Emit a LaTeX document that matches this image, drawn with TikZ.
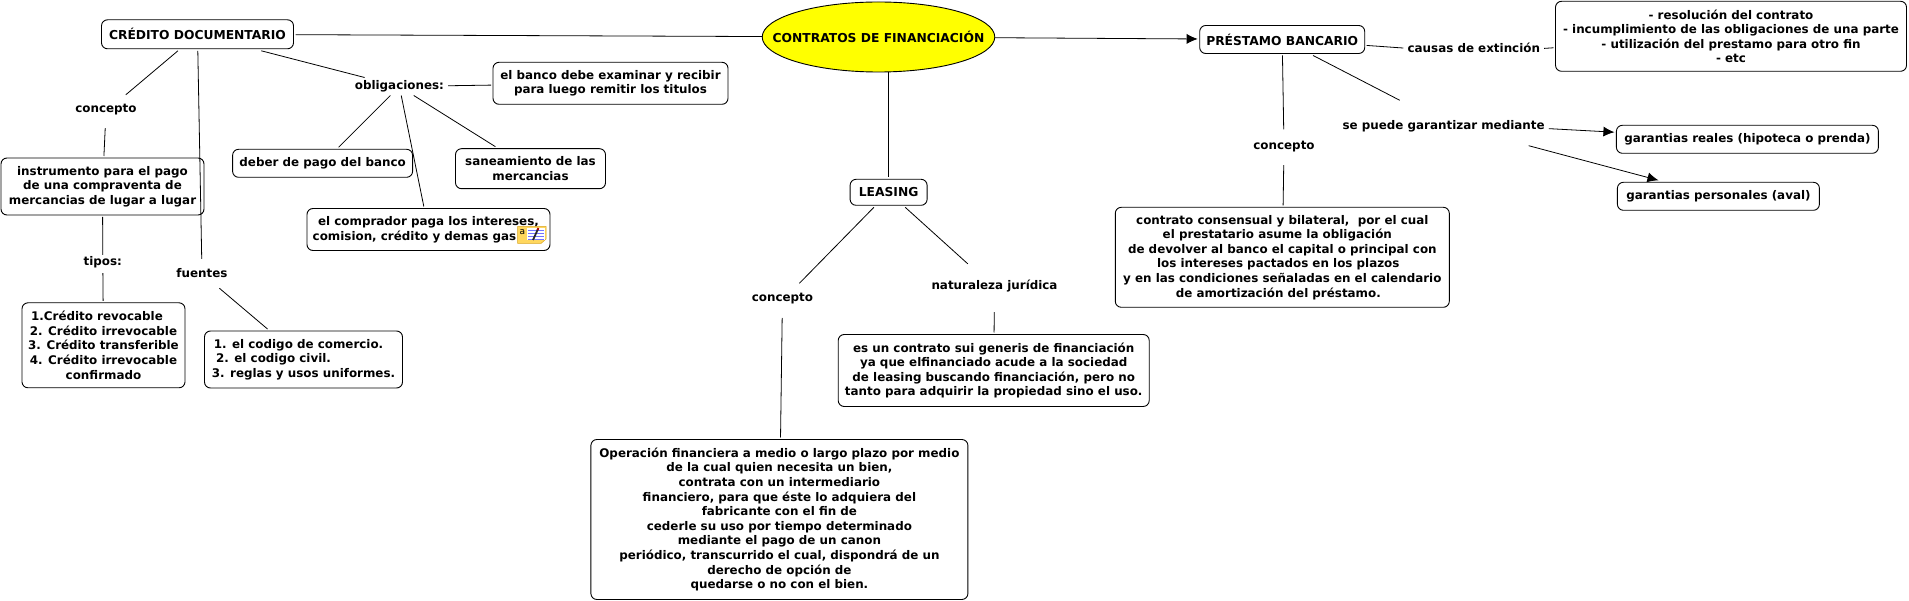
\documentclass[tikz,border=0pt]{standalone}
\usepackage{fontspec}
\setmainfont{DejaVu Sans}
\usetikzlibrary{arrows.meta,shapes.geometric}
\definecolor{elipsecolor}{HTML}{FFFF00}
\definecolor{notacolor}{HTML}{FFD75E}
\definecolor{notaborde}{HTML}{D9A520}
\newcommand{\colgar}[1]{\hspace*{#1}\mbox{}}
\tikzset{
	boxnode/.style={draw,rounded corners=6pt,fill=white,align=center,inner sep=0pt,outer sep=2pt,line width=.9pt},
	lblnode/.style 2 args={anchor=base,inner xsep=4pt,inner ysep=0pt,text height=#1,text depth=#2},
	headfont/.style={font=\fontsize{12.3}{14.6}\selectfont\bfseries},
	link/.style={line width=.8pt},
	arrowlink/.style={link,-{Latex[length=11pt,width=10pt]}}
}
\begin{document}
\begin{tikzpicture}[x=1pt,y=-1pt,font=\fontsize{11.9}{14.6}\selectfont\bfseries,line join=round]
	\useasboundingbox (0,0) rectangle (1909,601);
	\node[draw,fill=elipsecolor,ellipse,headfont,inner xsep=-23.6pt,inner ysep=0pt,minimum height=70pt,outer sep=0pt,line width=.9pt] (contratos) at (878.5,37) {CONTRATOS DE FINANCIACIÓN};
	% lado izquierdo
	\node[boxnode,headfont,minimum width=192pt,minimum height=29pt] (credito) at (197.5,34.3) {CRÉDITO DOCUMENTARIO};
	\node[lblnode={17.5pt}{15.5pt}] (concepto1) at (106,112.5) {concepto};
	\node[boxnode,minimum width=203pt,minimum height=57pt] (instrumento) at (102.5,186.5) {instrumento para el pago\\de una compraventa de\\mercancias de lugar a lugar};
	\node[lblnode={11pt}{7pt}] (tipos) at (102.8,266) {tipos:};
	\node[boxnode,minimum width=163pt,minimum height=85pt] (listatipos) at (103.5,345.3) {1.Crédito revocable\colgar{13pt}\\2. Crédito irrevocable\\3. Crédito transferible\\4. Crédito irrevocable\\confirmado};
	\node[lblnode={19pt}{10pt}] (fuentes) at (202,278) {fuentes};
	\node[boxnode,minimum width=198pt,minimum height=57pt] (listafuentes) at (303.5,359.5) {1. el codigo de comercio.\colgar{10pt}\\2. el codigo civil.\colgar{60pt}\\3. reglas y usos uniformes.};
	\node[lblnode={11.8pt}{5.8pt}] (obligaciones) at (399.4,89.5) {obligaciones:};
	\node[boxnode,minimum width=235pt,minimum height=42pt] (banco) at (610.5,83.3) {el banco debe examinar y recibir\\para luego remitir los titulos};
	\node[boxnode,minimum width=180pt,minimum height=28pt] (deber) at (322.6,163.3) {deber de pago del banco};
	\node[boxnode,minimum width=150pt,minimum height=40pt] (saneamiento) at (530.5,168.7) {saneamiento de las\\mercancias};
	\node[boxnode,minimum width=243pt,minimum height=42pt] (comprador) at (428.5,229.5) {el comprador paga los intereses,\\comision, crédito y demas gas\colgar{28pt}};
	% nota sobre el nodo
	\filldraw[fill=notacolor,draw=notaborde,line width=.5pt] (517.5,226.5)--(546,226.5)--(546,239)--(541,243.5)--(517.5,243.5)--cycle;
	\fill[white] (527,228)rectangle(544.5,240);
	\node[font=\fontsize{9}{9}\selectfont,inner sep=0pt] (notaletra) at (522.3,232) {a};
	\foreach \y in {230,233,236,239}
		\draw[blue!55!white,line width=.7pt] (528,\y)--(544,\y);
	\draw[black!85,line width=1.8pt] (533,240)--(538,229);
	\draw[red!70!black,line width=1.8pt] (537.5,230)--(538.4,228);
	% centro
	\node[boxnode,headfont,minimum width=77pt,minimum height=26pt] (leasing) at (888.6,192.3) {LEASING};
	\node[lblnode={18pt}{16.3pt}] (concepto2) at (782.4,301.5) {concepto};
	\node[boxnode,minimum width=377pt,minimum height=160pt] (operacion) at (779.4,519.5) {Operación financiera a medio o largo plazo por medio\\de la cual quien necesita un bien,\\contrata con un intermediario\\financiero, para que éste lo adquiera del\\fabricante con el fin de\\cederle su uso por tiempo determinado\\mediante el pago de un canon\\periódico, transcurrido el cual, dispondrá de un\\derecho de opción de\\quedarse o no con el bien.};
	\node[lblnode={26pt}{22pt}] (naturaleza) at (994.5,290) {naturaleza jurídica};
	\node[boxnode,minimum width=311pt,minimum height=72pt] (sui) at (993.7,370.5) {es un contrato sui generis de financiación\\ya que elfinanciado acude a la sociedad\\de leasing buscando financiación, pero no\\tanto para adquirir la propiedad sino el uso.};
	% lado derecho
	\node[boxnode,headfont,minimum width=165pt,minimum height=28pt] (prestamo) at (1282.2,39.5) {PRÉSTAMO BANCARIO};
	\node[lblnode={8pt}{8pt}] (causas) at (1473.8,53) {causas de extinción};
	\node[boxnode,minimum width=351pt,minimum height=70pt] (extincion) at (1731,36.3) {- resolución del contrato\\- incumplimiento de las obligaciones de una parte\\- utilización del prestamo para otro fin\\- etc};
	\node[lblnode={20pt}{15.5pt}] (concepto3) at (1284,149.5) {concepto};
	\node[boxnode,minimum width=334pt,minimum height=100pt] (consensual) at (1282.3,257.3) {contrato consensual y bilateral,\ \ por el cual\\el prestatario asume la obligación\colgar{10pt}\\de devolver al banco el capital o principal con\\los intereses pactados en los plazos\colgar{8pt}\\y en las condiciones señaladas en el calendario\\de amortización del préstamo.\colgar{8pt}};
	\node[lblnode={29pt}{16pt}] (garantizar) at (1443.6,129.5) {se puede garantizar mediante};
	\node[boxnode,minimum width=262pt,minimum height=28pt] (reales) at (1747.4,139.3) {garantias reales (hipoteca o prenda)};
	\node[boxnode,minimum width=202pt,minimum height=28pt] (personales) at (1718.4,196.3) {garantias personales (aval)};
	% conectores
	\draw[link] (credito)--(contratos);
	\draw[arrowlink] (contratos)--(prestamo);
	\draw[link] (contratos.south -| leasing.north)--(leasing.north);
	\draw[link] (credito)--(concepto1);
	\draw[link] (concepto1)--(instrumento);
	\draw[link] (instrumento)--(tipos);
	\draw[link] (tipos)--(listatipos);
	\draw[link] (credito)--(fuentes);
	\draw[link] (fuentes)--(listafuentes);
	\draw[link] (credito)--(obligaciones);
	\draw[link] (obligaciones)--(banco);
	\draw[link] (obligaciones)--(deber);
	\draw[link] (obligaciones)--(comprador);
	\draw[link] (obligaciones)--(saneamiento);
	\draw[link] (leasing)--(concepto2);
	\draw[link] (concepto2)--(operacion);
	\draw[link] (leasing)--(naturaleza);
	\draw[link] (naturaleza)--(sui);
	\draw[link] (prestamo)--(causas);
	\draw[link] (causas)--(extincion);
	\draw[link] (prestamo)--(concepto3);
	\draw[link] (concepto3)--(consensual);
	\draw[link] (prestamo)--(garantizar);
	\draw[arrowlink] (garantizar)--(reales);
	\draw[arrowlink] (garantizar)--(personales);
\end{tikzpicture}
\end{document}
